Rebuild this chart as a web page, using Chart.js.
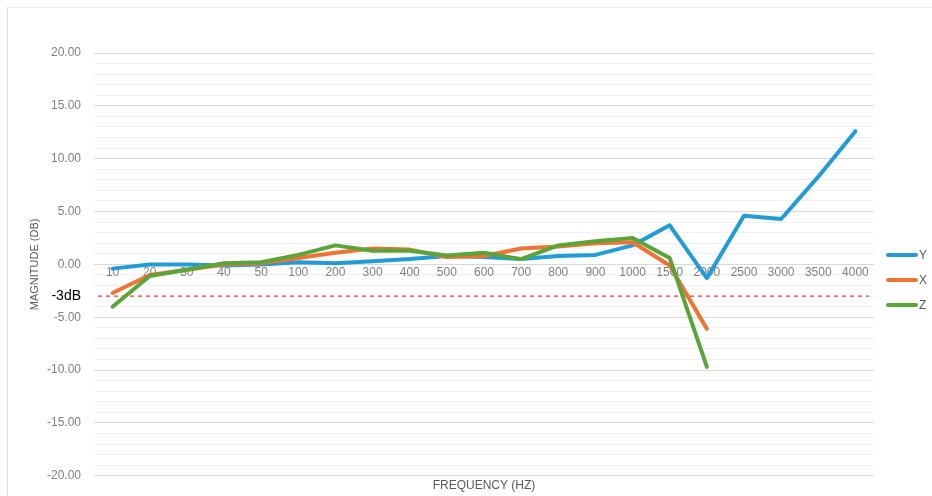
<!DOCTYPE html>
<html>
<head>
<meta charset="utf-8">
<script src="https://cdn.jsdelivr.net/npm/chart.js@4"></script>
<style>
  html, body { margin: 0; padding: 0; background: #fff; }
  #wrap { position: relative; width: 932px; height: 496px; }
  #frame { position: absolute; left: 7px; top: 7px; right: 0; bottom: 0; border-left: 1px solid #dcdcdc; border-top: 1px solid #eeeeee; }
</style>
</head>
<body>
<div id="wrap">
  <div id="frame"></div>
  <canvas id="myChart" width="932" height="496"></canvas>
</div>
<script>
// Frequenzen (Kategorien)
const frequenzen = ["10", "20", "30", "40", "50", "100", "200", "300", "400", "500", "600", "700",
  "800", "900", "1000", "1500", "2000", "2500", "3000", "3500", "4000"];

// Messwerte in dB
const werteY = [-0.4, 0.0, 0.0, -0.1, 0.0, 0.2, 0.1, 0.3, 0.5, 0.8, 0.7, 0.5,
  0.8, 0.9, 1.8, 3.7, -1.3, 4.6, 4.3, 8.3, 12.6];
const werteX = [-2.7, -1.0, -0.5, 0.0, 0.1, 0.6, 1.1, 1.5, 1.4, 0.7, 0.8, 1.5,
  1.7, 2.0, 2.1, -0.1, -6.1, null, null, null, null];
const werteZ = [-4.0, -1.1, -0.5, 0.1, 0.2, 0.9, 1.8, 1.3, 1.3, 0.85, 1.1, 0.5,
  1.8, 2.2, 2.5, 0.6, -9.7, null, null, null, null];

const grenzwert = -3; // -3dB Linie
const yMin = -20, yMax = 20, yMajor = 5;
const xTitel = "FREQUENCY (HZ)";

const farbeY = "#229bd6";
const farbeX = "#ee7433";
const farbeZ = "#5aa53a";

// -3dB Linie, x-Titel und eigene Legende
const extraPlugin = {
  id: "extra",
  beforeDatasetsDraw(chart) {
    const ctx = chart.ctx;
    const area = chart.chartArea;
    const y = chart.scales.y.getPixelForValue(grenzwert);
    ctx.save();
    ctx.strokeStyle = "#e8453c";
    ctx.lineWidth = 1.3;
    ctx.setLineDash([4, 4]);
    ctx.beginPath();
    ctx.moveTo(area.left + 4, y);
    ctx.lineTo(area.right - 5, y);
    ctx.stroke();
    ctx.restore();
  },
  afterDraw(chart) {
    const ctx = chart.ctx;
    const area = chart.chartArea;
    ctx.save();
    ctx.font = "12px 'Liberation Sans', Arial, sans-serif";
    ctx.textBaseline = "middle";
    ctx.fillStyle = "#595959";
    ctx.textAlign = "center";
    ctx.fillText(xTitel, (area.left + area.right) / 2, area.bottom + 10);
    ctx.textAlign = "left";
    chart.data.datasets.forEach((ds, i) => {
      const y = 255 + i * 25;
      ctx.strokeStyle = ds.borderColor;
      ctx.lineWidth = 4;
      ctx.lineCap = "round";
      ctx.beginPath();
      ctx.moveTo(888, y);
      ctx.lineTo(916, y);
      ctx.stroke();
      ctx.fillText(ds.label, 919, y + 1);
    });
    ctx.restore();
  }
};

const lineChart = document.getElementById("myChart");

let myChart = new Chart(lineChart, {
  type: "line",
  data: {
    labels: frequenzen,
    datasets: [
      { label: "Y", data: werteY, borderColor: farbeY, backgroundColor: farbeY, borderWidth: 4, order: 3 },
      { label: "X", data: werteX, borderColor: farbeX, backgroundColor: farbeX, borderWidth: 4, order: 2 },
      { label: "Z", data: werteZ, borderColor: farbeZ, backgroundColor: farbeZ, borderWidth: 4, order: 1 },
    ],
  },
  options: {
    responsive: false,
    animation: false,
    layout: { padding: { left: 28, right: 58, top: 53, bottom: 18 } },
    elements: {
      point: { radius: 0, hoverRadius: 0 },
      line: { tension: 0, borderJoinStyle: "round", borderCapStyle: "round" },
    },
    plugins: {
      legend: { display: false },
      tooltip: { enabled: false },
      title: { display: false },
    },
    scales: {
      x: {
        position: { y: 0 },
        offset: true,
        grid: { display: false, drawTicks: false },
        border: { display: false },
        ticks: {
          color: "#7f7f7f",
          autoSkip: false,
          maxRotation: 0,
          padding: 1,
          font: { family: "'Liberation Sans', Arial, sans-serif", size: 12 },
        },
      },
      y: {
        min: yMin,
        max: yMax,
        afterFit: (skala) => { skala.width = 66; },
        title: {
          display: true,
          text: "MAGNITUDE (DB)",
          color: "#595959",
          font: { family: "'Liberation Sans', Arial, sans-serif", size: 11 },
          padding: { top: 0, bottom: 3 },
        },
        border: { display: false },
        grid: {
          drawTicks: false,
          color: (c) => (c.tick.value % yMajor === 0 ? "#d9d9d9" : "#f0f0f0"),
          lineWidth: 1,
        },
        ticks: {
          stepSize: 1,
          autoSkip: false,
          padding: 13,
          color: (c) => (c.tick.value === grenzwert ? "#000000" : "#7f7f7f"),
          font: (c) => ({ family: "'Liberation Sans', Arial, sans-serif", size: c.tick && c.tick.value === grenzwert ? 14 : 12 }),
          callback: function (wert) {
            if (wert === grenzwert) return "-3dB";
            if (wert % yMajor === 0) return wert.toFixed(2);
            return "";
          },
        },
      },
    },
  },
  plugins: [extraPlugin],
});
</script>
</body>
</html>
